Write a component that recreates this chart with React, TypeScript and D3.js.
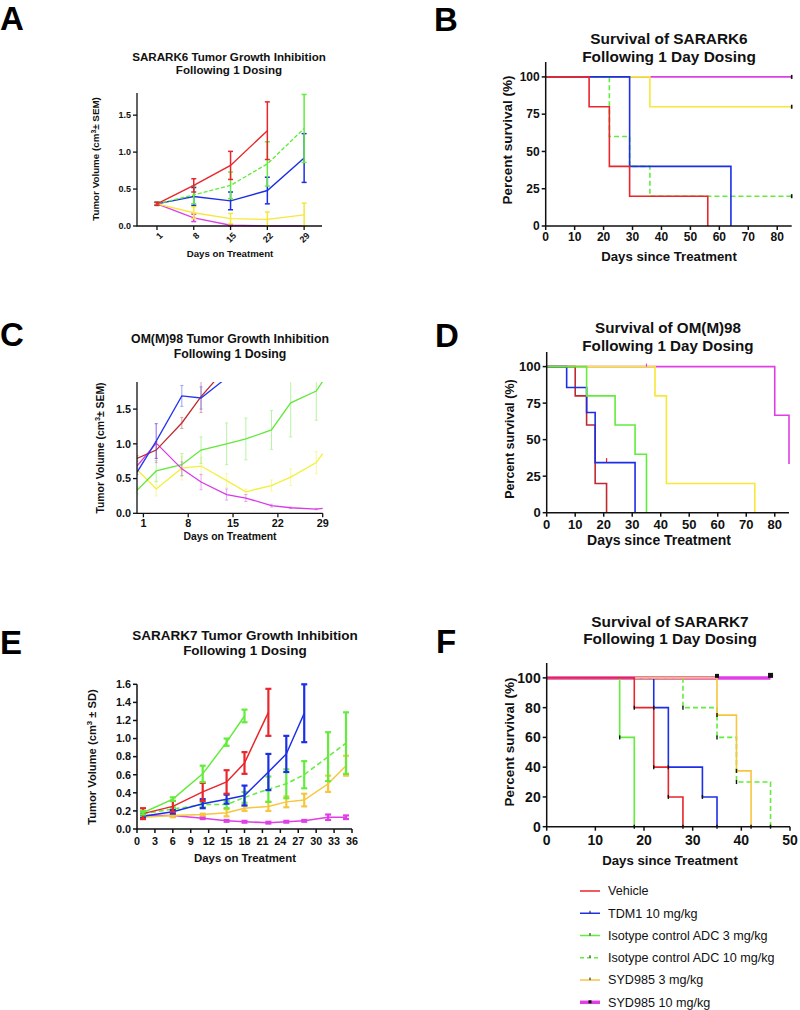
import React from 'react';
import * as d3 from 'd3';

const FONT = "'Liberation Sans', Arial, Helvetica, sans-serif";

const RED = '#e8262b';
const BLUE = '#1c2fe6';
const GREEN = '#62ec3c';
const YELLOW = '#f6e73a';
const GOLD = '#f6c63e';
const MAGENTA = '#df3fe4';
const DARKRED = '#bf2a30';

// ---------- Legend ----------
const legendLabels = ['Vehicle', 'TDM1 10 mg/kg', 'Isotype control ADC 3 mg/kg', 'Isotype control ADC 10 mg/kg', 'SYD985 3 mg/kg', 'SYD985 10 mg/kg'];

// ---------- Panel A (SARARK6 growth, mean ± SEM) ----------
const A_days = [1, 8, 15, 22, 29];
const A_vehicle = [0.30, 0.55, 0.82, 1.29];
const A_vehicleErr = [0.02, 0.09, 0.19, 0.39];
const A_tdm1 = [0.30, 0.40, 0.34, 0.48, 0.92];
const A_tdm1Err = [0.02, 0.12, 0.12, 0.18, 0.33];
const A_iso10 = [0.30, 0.42, 0.55, 0.84, 1.32];
const A_iso10Err = [0.02, 0.12, 0.18, 0.30, 0.46];
const A_syd3 = [0.30, 0.18, 0.10, 0.09, 0.15];
const A_syd3Err = [0.02, 0.08, 0.07, 0.10, 0.16];
const A_syd10 = [0.30, 0.11, 0.01, 0.0, 0.0];
const A_syd10Err = [0.02, 0.05, 0.01, 0, 0];
const A_xTicks = [1, 8, 15, 22, 29];
const A_yTicks = [0, 0.5, 1.0, 1.5];

// ---------- Panel B (SARARK6 survival) ----------
const B_vehicleT = [0, 15, 22, 29, 56];
const B_vehicleS = [100, 80, 40, 20, 0];
const B_tdm1T = [0, 29, 64];
const B_tdm1S = [100, 40, 0];
const B_iso10T = [0, 22, 29, 36];
const B_iso10S = [100, 60, 40, 20];
const B_syd3T = [0, 36];
const B_syd3S = [100, 80];
const B_syd10T = [0];
const B_syd10S = [100];
const B_xTicks = [0, 10, 20, 30, 40, 50, 60, 70, 80];
const B_yTicks = [0, 25, 50, 75, 100];

// ---------- Panel C (OM(M)98 growth, mean ± SEM) ----------
const C_shortDays = [0, 3, 7, 10, 14];
const C_days = [0, 3, 7, 10, 14, 17, 21, 24, 28, 29];
const C_vehicle = [0.79, 0.91, 1.30, 1.68, 2.10];
const C_vehicleErr = [0.04, 0.12, 0.08, 0.23, 0];
const C_tdm1 = [0.59, 1.04, 1.69, 1.66, 1.95];
const C_tdm1Err = [0.03, 0.25, 0.15, 0.16, 0];
const C_iso3 = [0.33, 0.61, 0.70, 0.91, 1.00, 1.07, 1.20, 1.59, 1.76, 1.90];
const C_iso3Err = [0.05, 0.15, 0.16, 0.19, 0.30, 0.30, 0.28, 0.49, 0.42, 0];
const C_syd3 = [0.63, 0.35, 0.65, 0.68, 0.47, 0.31, 0.40, 0.52, 0.73, 0.86];
const C_syd3Err = [0.03, 0.10, 0.17, 0.12, 0.10, 0.04, 0.08, 0.12, 0.16, 0];
const C_syd10 = [0.68, 1.01, 0.64, 0.45, 0.27, 0.22, 0.11, 0.08, 0.06, 0.07];
const C_syd10Err = [0.03, 0.28, 0.10, 0.11, 0.08, 0.05, 0.02, 0.01, 0.01, 0];
const C_xTicks = [1, 8, 15, 22, 29];
const C_yTicks = [0, 0.5, 1.0, 1.5];

// ---------- Panel D (OM(M)98 survival) ----------
const D_vehicleT = [0, 10, 14, 17, 21];
const D_vehicleS = [100, 80, 60, 20, 0];
const D_tdm1T = [0, 7, 14, 17, 31];
const D_tdm1S = [100, 85.7, 68.6, 34.3, 0];
const D_iso3T = [0, 14, 24, 31, 35];
const D_iso3S = [100, 80, 60, 40, 0];
const D_syd3T = [0, 38, 42, 73];
const D_syd3S = [100, 80, 20, 0];
const D_syd10T = [0, 80, 85];
const D_syd10S = [100, 66.7, 33.3];

// ---------- Panel E (SARARK7 growth, mean ± SD) ----------
const E_days = [1, 6, 11, 15, 18, 22, 25, 28, 32, 35];
const E_vehicle = [0.17, 0.25, 0.41, 0.52, 0.73, 1.29];
const E_vehicleErr = [0.06, 0.06, 0.10, 0.13, 0.12, 0.26];
const E_tdm1 = [0.14, 0.19, 0.28, 0.33, 0.37, 0.63, 0.83, 1.28];
const E_tdm1Err = [0.02, 0.02, 0.05, 0.05, 0.11, 0.20, 0.20, 0.32];
const E_iso3 = [0.18, 0.33, 0.61, 0.96, 1.25];
const E_iso3Err = [0.02, 0.02, 0.09, 0.04, 0.07];
const E_iso10 = [0.17, 0.22, 0.27, 0.27, 0.35, 0.44, 0.50, 0.60, 0.80, 0.95];
const E_iso10Err = [0.02, 0.02, 0.03, 0.04, 0.06, 0.14, 0.16, 0.15, 0.27, 0.34];
const E_syd3 = [0.13, 0.15, 0.16, 0.18, 0.23, 0.25, 0.30, 0.32, 0.50, 0.70];
const E_syd3Err = [0.02, 0.02, 0.01, 0.04, 0.03, 0.05, 0.06, 0.07, 0.09, 0.11];
const E_syd10 = [0.15, 0.15, 0.12, 0.09, 0.08, 0.07, 0.08, 0.09, 0.13, 0.13];
const E_syd10Err = [0.01, 0.01, 0.01, 0.01, 0.01, 0.01, 0.01, 0.01, 0.03, 0.02];
const E_xTicks = [0, 3, 6, 9, 12, 15, 18, 21, 24, 27, 30, 33, 36];
const E_yTicks = [0, 0.2, 0.4, 0.6, 0.8, 1.0, 1.2, 1.4, 1.6];

// ---------- Panel F (SARARK7 survival) ----------
const F_vehicleT = [0, 18, 22, 25, 28];
const F_vehicleS = [100, 80, 40, 20, 0];
const F_tdm1T = [0, 22, 25, 32, 35];
const F_tdm1S = [100, 80, 40, 20, 0];
const F_iso3T = [0, 15, 18];
const F_iso3S = [100, 60, 0];
const F_iso10T = [0, 28, 35, 39, 46];
const F_iso10S = [100, 80, 60, 30, 0];
const F_syd3T = [0, 35, 39, 42];
const F_syd3S = [100, 75, 37.5, 0];
const F_syd10T = [0, 46];
const F_syd10S = [100, 100];
const F_xTicks = [0, 10, 20, 30, 40, 50];
const F_yTicks = [0, 20, 40, 60, 80, 100];

type GSeries = { days: number[]; mean: number[]; err: number[]; color: string; dash?: string; width?: number };
type SSeries = { t: number[]; s: number[]; end?: number; color: string; dash?: string; width?: number };

const fmt1 = d3.format('.1f');
const fmt0 = d3.format('d');

function Axes({ xs, ys, xTicks, yTicks, yFmt, xFmt, fs, xLabOff, rotate, axW = 1.5 }: any) {
  const [x0, x1] = xs.range();
  const [yb, yt] = ys.range();
  return (
    <g fontFamily={FONT} fontWeight="bold" fontSize={fs} fill="#111">
      <path d={`M${x0},${yt}V${yb}H${x1}`} fill="none" stroke="#111" strokeWidth={axW} />
      {yTicks.map((v: number) => (
        <g key={'y' + v}>
          <line x1={x0 - 4} x2={x0} y1={ys(v)} y2={ys(v)} stroke="#111" strokeWidth={axW} />
          <text x={x0 - 6} y={ys(v)} dy="0.35em" textAnchor="end">{yFmt(v)}</text>
        </g>
      ))}
      {xTicks.map((v: number) => (
        <g key={'x' + v}>
          <line x1={xs(v)} x2={xs(v)} y1={yb} y2={yb + 4} stroke="#111" strokeWidth={axW} />
          {rotate ? (
            <text transform={`translate(${xs(v) + 4},${yb + 8}) rotate(-45)`} textAnchor="end" dy="0.35em">{xFmt(v)}</text>
          ) : (
            <text x={xs(v)} y={yb + xLabOff} textAnchor="middle">{xFmt(v)}</text>
          )}
        </g>
      ))}
    </g>
  );
}

function GrowthSeries({ xs, ys, series, capW, errW, errOpacity, lineW }: any) {
  const line = d3.line<[number, number]>().x(d => xs(d[0])).y(d => ys(d[1]));
  return (
    <g>
      {series.map((s: GSeries, k: number) => {
        const pts: [number, number][] = s.mean.map((m, i) => [s.days[i], m]);
        return (
          <g key={k}>
            <g stroke={s.color} strokeWidth={errW} opacity={errOpacity}>
              {s.mean.map((m, i) => {
                const e = s.err[i];
                if (!e) return null;
                const cx = xs(s.days[i]);
                const lo = ys(Math.max(0, m - e));
                const hi = ys(m + e);
                return (
                  <g key={i}>
                    <line x1={cx} x2={cx} y1={lo} y2={hi} />
                    <line x1={cx - capW / 2} x2={cx + capW / 2} y1={lo} y2={lo} />
                    <line x1={cx - capW / 2} x2={cx + capW / 2} y1={hi} y2={hi} />
                  </g>
                );
              })}
            </g>
            <path d={line(pts) || ''} fill="none" stroke={s.color} strokeWidth={s.width || lineW} strokeDasharray={s.dash} />
          </g>
        );
      })}
    </g>
  );
}

function SurvSeries({ xs, ys, series, lineW }: any) {
  const line = d3.line<[number, number]>().x(d => xs(d[0])).y(d => ys(d[1])).curve(d3.curveStepAfter);
  return (
    <g>
      {series.map((s: SSeries, k: number) => {
        const pts: [number, number][] = s.t.map((t, i) => [t, s.s[i]]);
        if (s.end !== undefined) pts.push([s.end, s.s[s.s.length - 1]]);
        return <path key={k} d={line(pts) || ''} fill="none" stroke={s.color} strokeWidth={s.width || lineW} strokeDasharray={s.dash} />;
      })}
    </g>
  );
}

function Title({ x, y1, y2, l1, l2, fs }: any) {
  return (
    <g fontFamily={FONT} fontWeight="bold" fontSize={fs} fill="#111" textAnchor="middle">
      <text x={x} y={y1}>{l1}</text>
      <text x={x} y={y2}>{l2}</text>
    </g>
  );
}

function YLabel({ x, y, fs, children }: any) {
  return (
    <text transform={`translate(${x},${y}) rotate(-90)`} textAnchor="middle" dy="0.35em" fontFamily={FONT} fontWeight="bold" fontSize={fs} fill="#111">{children}</text>
  );
}

function XLabel({ x, y, fs, children }: any) {
  return <text x={x} y={y} textAnchor="middle" fontFamily={FONT} fontWeight="bold" fontSize={fs} fill="#111">{children}</text>;
}

function Letter({ x, y, children }: any) {
  return <text x={x} y={y} fontFamily={FONT} fontWeight="bold" fontSize={33} fill="#000">{children}</text>;
}

export default function App() {
  // ---- A ----
  const axs = d3.scaleLinear().domain([-2.8, 32.4]).range([137, 322]);
  const ays = d3.scaleLinear().domain([0, 1.8]).range([226, 93]);
  const aSeries: GSeries[] = [
    { days: A_days, mean: A_syd10, err: A_syd10Err, color: MAGENTA },
    { days: A_days, mean: A_syd3, err: A_syd3Err, color: YELLOW },
    { days: A_days, mean: A_tdm1, err: A_tdm1Err, color: BLUE },
    { days: A_days, mean: A_iso10, err: A_iso10Err, color: GREEN, dash: '4,2' },
    { days: A_days.slice(0, 4), mean: A_vehicle, err: A_vehicleErr, color: RED },
  ];

  // ---- B ----
  const bxs = d3.scaleLinear().domain([0, 85]).range([545.7, 791.7]);
  const bys = d3.scaleLinear().domain([0, 110]).range([226, 62]);
  const bSeries: SSeries[] = [
    { t: B_syd10T, s: B_syd10S, end: 85, color: MAGENTA },
    { t: B_syd3T, s: B_syd3S, end: 85, color: YELLOW },
    { t: B_iso10T, s: B_iso10S, end: 85, color: GREEN, dash: '5,3' },
    { t: B_tdm1T, s: B_tdm1S, color: BLUE },
    { t: B_vehicleT, s: B_vehicleS, color: RED },
  ];
  const bCensor = [[85, 100], [85, 80], [85, 20]];

  // ---- C ----
  const cxs = d3.scaleLinear().domain([0, 29]).range([137, 322.7]);
  const cys = d3.scaleLinear().domain([0, 1.89]).range([513.3, 382]);
  const cSeries: GSeries[] = [
    { days: C_days, mean: C_syd3, err: C_syd3Err, color: '#f2f03a' },
    { days: C_days, mean: C_iso3, err: C_iso3Err, color: '#62e83a' },
    { days: C_days, mean: C_syd10, err: C_syd10Err, color: '#d93ae6' },
    { days: C_shortDays, mean: C_vehicle, err: C_vehicleErr, color: DARKRED },
    { days: C_shortDays, mean: C_tdm1, err: C_tdm1Err, color: '#2436f0' },
  ];

  // ---- D ----
  const dxs = d3.scaleLinear().domain([0, 85]).range([546.7, 789]);
  const dys = d3.scaleLinear().domain([0, 110]).range([512.7, 352]);
  const dSeries: SSeries[] = [
    { t: D_syd10T, s: D_syd10S, color: MAGENTA },
    { t: D_syd3T, s: D_syd3S, color: YELLOW },
    { t: D_vehicleT, s: D_vehicleS, color: DARKRED },
    { t: D_tdm1T, s: D_tdm1S, color: BLUE },
    { t: D_iso3T, s: D_iso3S, color: GREEN },
  ];

  // ---- E ----
  const exs = d3.scaleLinear().domain([0, 36]).range([137, 352]);
  const eys = d3.scaleLinear().domain([0, 1.6]).range([829, 684.3]);
  const eSeries: GSeries[] = [
    { days: E_days, mean: E_syd10, err: E_syd10Err, color: MAGENTA },
    { days: E_days, mean: E_syd3, err: E_syd3Err, color: GOLD },
    { days: E_days, mean: E_iso10, err: E_iso10Err, color: GREEN, dash: '5,3' },
    { days: E_days.slice(0, 8), mean: E_tdm1, err: E_tdm1Err, color: BLUE },
    { days: E_days.slice(0, 6), mean: E_vehicle, err: E_vehicleErr, color: RED },
    { days: E_days.slice(0, 5), mean: E_iso3, err: E_iso3Err, color: GREEN },
  ];

  // ---- F ----
  const fxs = d3.scaleLinear().domain([0, 50]).range([546.7, 790]);
  const fys = d3.scaleLinear().domain([0, 110]).range([826.7, 663]);
  const fSeries: SSeries[] = [
    { t: F_syd10T, s: F_syd10S, color: MAGENTA, width: 3.5 },
    { t: F_iso3T, s: F_iso3S, color: GREEN },
    { t: F_tdm1T, s: F_tdm1S, color: BLUE },
    { t: F_iso10T, s: F_iso10S, color: GREEN, dash: '5,3' },
    { t: F_syd3T, s: F_syd3S, color: GOLD },
    { t: F_vehicleT, s: F_vehicleS, color: RED },
  ];
  const fMarks: [number, number][] = [];
  fSeries.forEach(s => { if (s.color !== MAGENTA) s.t.forEach((t, i) => { if (i > 0) fMarks.push([t, s.s[i]]); }); });

  const legendColors = [RED, BLUE, GREEN, GREEN, GOLD, MAGENTA];
  const legendDash = [undefined, undefined, undefined, '4,3', undefined, undefined];
  const legendY = d3.scalePoint<string>().domain(legendLabels).range([891, 1002.3]);

  return (
    <svg width={800} height={1010} viewBox="0 0 800 1010" style={{ position: 'absolute', left: 0, top: 0, background: '#fff' }}>
      <rect width={800} height={1010} fill="#fff" />

      {/* ===== A ===== */}
      <Letter x={0} y={30}>A</Letter>
      <Title x={229} y1={60.5} y2={74} fs={11.6} l1="SARARK6 Tumor Growth Inhibition" l2="Following 1 Dosing" />
      <GrowthSeries xs={axs} ys={ays} series={aSeries} capW={5} errW={1.5} errOpacity={1} lineW={1.4} />
      <Axes xs={axs} ys={ays} xTicks={A_xTicks} yTicks={A_yTicks} yFmt={fmt1} xFmt={fmt0} fs={9} rotate axW={1.3} />
      <YLabel x={96} y={159} fs={9.8}>Tumor Volume (cm<tspan baselineShift="super" fontSize="70%">3</tspan>± SEM)</YLabel>
      <XLabel x={230} y={256.5} fs={9.7}>Days on Treatment</XLabel>

      {/* ===== B ===== */}
      <Letter x={434} y={31}>B</Letter>
      <Title x={669} y1={44} y2={61.5} fs={15.4} l1="Survival of SARARK6" l2="Following 1 Day Dosing" />
      <SurvSeries xs={bxs} ys={bys} series={bSeries} lineW={1.6} />
      {bCensor.map(([t, s], i) => <line key={i} x1={bxs(t)} x2={bxs(t)} y1={bys(s) - 2} y2={bys(s) + 2} stroke="#111" strokeWidth={1.6} />)}
      <Axes xs={bxs} ys={bys} xTicks={B_xTicks} yTicks={B_yTicks} yFmt={fmt0} xFmt={fmt0} fs={12} xLabOff={15} axW={1.5} />
      <YLabel x={507} y={140} fs={13.5}>Percent survival (%)</YLabel>
      <XLabel x={669} y={261} fs={13.2}>Days since Treatment</XLabel>

      {/* ===== C ===== */}
      <Letter x={0} y={346}>C</Letter>
      <Title x={230} y1={342.5} y2={357.5} fs={12.3} l1="OM(M)98 Tumor Growth Inhibition" l2="Following 1 Dosing" />
      <defs>
        <clipPath id="clipC"><rect x={137} y={382} width={190} height={140} /></clipPath>
      </defs>
      <g clipPath="url(#clipC)">
        <GrowthSeries xs={cxs} ys={cys} series={cSeries} capW={3} errW={1} errOpacity={0.45} lineW={1.3} />
      </g>
      <Axes xs={cxs} ys={cys} xTicks={C_xTicks} yTicks={C_yTicks} yFmt={fmt1} xFmt={fmt0} fs={10.8} xLabOff={13.5} axW={1.3} />
      <YLabel x={100} y={448} fs={10.4}>Tumor Volume (cm<tspan baselineShift="super" fontSize="70%">3</tspan>± SEM)</YLabel>
      <XLabel x={230} y={540} fs={10.4}>Days on Treatment</XLabel>

      {/* ===== D ===== */}
      <Letter x={435} y={347}>D</Letter>
      <Title x={668} y1={333} y2={351} fs={15.2} l1="Survival of OM(M)98" l2="Following 1 Day Dosing" />
      <SurvSeries xs={dxs} ys={dys} series={dSeries} lineW={1.6} />
      <line x1={dxs(35)} x2={dxs(35)} y1={dys(100) - 3} y2={dys(100)} stroke={MAGENTA} strokeWidth={1.2} />
      <line x1={dxs(21)} x2={dxs(21)} y1={dys(36) - 2} y2={dys(36) + 2} stroke={RED} strokeWidth={1.2} />
      <Axes xs={dxs} ys={dys} xTicks={B_xTicks} yTicks={B_yTicks} yFmt={fmt0} xFmt={fmt0} fs={13} xLabOff={16} axW={1.5} />
      <YLabel x={510} y={439} fs={12.5}>Percent survival (%)</YLabel>
      <XLabel x={659} y={545} fs={14}>Days since Treatment</XLabel>

      {/* ===== E ===== */}
      <Letter x={0} y={654}>E</Letter>
      <Title x={245} y1={639.5} y2={655} fs={13.5} l1="SARARK7 Tumor Growth Inhibition" l2="Following 1 Dosing" />
      <GrowthSeries xs={exs} ys={eys} series={eSeries} capW={6} errW={2.2} errOpacity={1} lineW={1.5} />
      <Axes xs={exs} ys={eys} xTicks={E_xTicks} yTicks={E_yTicks} yFmt={fmt1} xFmt={fmt0} fs={10.8} xLabOff={16} axW={1.5} />
      <YLabel x={92} y={757} fs={11.2}>Tumor Volume (cm<tspan baselineShift="super" fontSize="70%">3</tspan> ± SD)</YLabel>
      <XLabel x={245} y={861.5} fs={11.4}>Days on Treatment</XLabel>

      {/* ===== F ===== */}
      <Letter x={436} y={653}>F</Letter>
      <Title x={670} y1={626.5} y2={643.5} fs={15.4} l1="Survival of SARARK7" l2="Following 1 Day Dosing" />
      <SurvSeries xs={fxs} ys={fys} series={fSeries} lineW={1.6} />
      {fMarks.map(([t, s], i) => <line key={i} x1={fxs(t)} x2={fxs(t)} y1={fys(s) - 2} y2={fys(s) + 2} stroke="#111" strokeWidth={1.4} />)}
      <rect x={fxs(35) - 2} y={fys(100) - 4} width={4} height={4} fill="#111" />
      <rect x={fxs(46) - 2.5} y={fys(100) - 5} width={5} height={5} fill="#111" />
      <Axes xs={fxs} ys={fys} xTicks={F_xTicks} yTicks={F_yTicks} yFmt={fmt0} xFmt={fmt0} fs={14} xLabOff={18} axW={1.5} />
      <YLabel x={509} y={742} fs={13.5}>Percent survival (%)</YLabel>
      <XLabel x={670} y={864.5} fs={13.2}>Days since Treatment</XLabel>

      {/* ===== Legend ===== */}
      <g fontFamily={FONT} fontSize={12.6} fill="#111">
        {legendLabels.map((lab, i) => {
          const y = legendY(lab) as number;
          return (
            <g key={lab}>
              <line x1={580} x2={600} y1={y} y2={y} stroke={legendColors[i]} strokeWidth={i === 5 ? 3.5 : 1.5} strokeDasharray={legendDash[i]} />
              {i > 0 && i < 5 && <line x1={590} x2={590} y1={y - 2.5} y2={y} stroke="#111" strokeWidth={1} />}
              {i === 5 && <rect x={588.5} y={y - 2} width={3} height={3} fill="#111" />}
              <text x={608} y={y} dy="0.35em">{lab}</text>
            </g>
          );
        })}
      </g>
    </svg>
  );
}
